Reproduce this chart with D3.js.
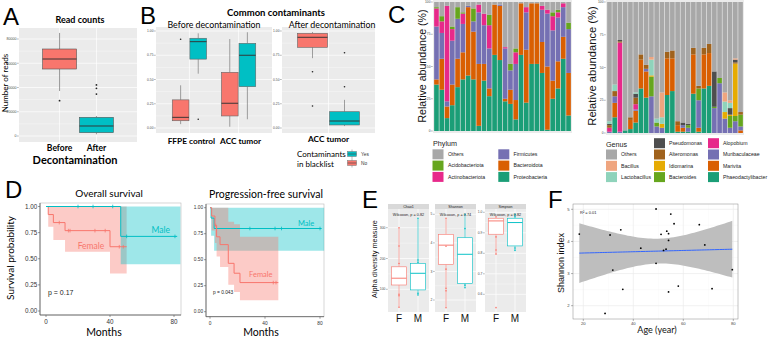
<!DOCTYPE html>
<html><head><meta charset="utf-8">
<script src="https://cdn.jsdelivr.net/npm/d3@7"></script>
<style>body{margin:0;background:#fff}svg{display:block}</style>
</head><body><svg id="c" width="771" height="337"></svg>
<script>
// ---------------- DATA ----------------
// Panel A: read counts
const readGroups = ["Before", "After"];
const readLow = [37100, 1400];
const readQ1 = [55250, 2750];
const readMedian = [63500, 8250];
const readQ3 = [71750, 15400];
const readHigh = [85000, 16500];
const readOutliers = [[29100], [42100, 39300, 34600]];
const readTicks = [0, 20000, 40000, 60000, 80000];

// Panel B: common contaminants proportion [low, q1, median, q3, high]
const beforeSites = ["FFPE control", "ACC tumor"];
const afterSites = ["ACC tumor"];
const blacklistLabels = ["Yes", "No"];
const beforeNo = [[0.04, 0.075, 0.11, 0.29, 0.44], [0.013, 0.124, 0.255, 0.574, 0.917]];
const beforeYes = [[0.56, 0.71, 0.89, 0.925, 0.976], [0.09, 0.426, 0.75, 0.873, 0.987]];
const beforeNoOut = [[0.915], []];
const beforeYesOut = [[0.09], []];
const afterNo = [0.72, 0.832, 0.935, 0.976, 0.99];
const afterYes = [0.02, 0.031, 0.072, 0.168, 0.29];
const afterNoOut = [0.58, 0.227];
const afterYesOut = [0.776, 0.426];
const propTicks = [0, 0.25, 0.5, 0.75, 1];

// Panel C: relative abundance (%) per sample, 26 samples
const samples = d3.range(1, 27).map(i => "S" + i);
const phylumNames = ["Proteobacteria", "Bacteroidota", "Firmicutes", "Actinobacteriota", "Acidobacteriota"];
const proteobacteria = [36,32,10,20,34,40,43,40,4,39,27,59,55,23,21,9,59,22,52,52,45,1,25,33,56,12];
const bacteroidota   = [4,24,9,16,22,21,53,37,48,13,6,39,42,2,11,15,40,41,47,47,24,49,14,21,17,33];
const firmicutes     = [41,20,4,34,31,22,1,8,40,30,31,0,1,39,15,28,0,29,0,0,25,41,39,34,23,34];
const actinobacteriota = [14,9,74,9,0,8,0,0,6,9,18,0,0,1,0,9,0,4,0,0,3,3,11,4,3,0];
const acidobacteriota  = [1,4,0,2,9,1,0,10,0,0,8,0,0,0,5,3,0,0,0,0,0,0,3,2,0,5];
const phylumLegendCol1 = ["Others", "Acidobacteriota", "Actinobacteriota"];
const phylumLegendCol2 = ["Firmicutes", "Bacteroidota", "Proteobacteria"];

const genusNames = ["Phaeodactylibacter","Marivita","Muribaculaceae","Alopobium","Bacteroides","Idiomarina","Alteromonas","Pseudomonas","Lactobacillus","Bacillus"];
const phaeodactylibacter = [0,12,0,2,3,8,34,27,0,0,0,29,32,1,1,1,30,1,34,36,0,0,0,0,0,0];
const marivita      = [0,11,0,0,7,9,22,20,0,0,0,28,25,5,3,0,30,3,26,25,0,0,0,0,0,2];
const muribaculaceae= [1,5,1,0,0,1,0,2,28,5,4,0,0,0,2,3,0,21,0,0,19,38,11,4,9,3];
const alopobium     = [3,0,68,0,0,4,0,0,0,0,0,0,0,0,0,0,0,0,0,0,0,0,0,0,0,0];
const bacteroides   = [0,0,0,0,0,0,0,0,15,3,0,0,0,0,0,2,0,9,0,0,1,4,0,9,4,9];
const idiomarina    = [0,0,0,0,0,0,0,0,1,0,3,0,0,0,0,0,0,0,0,0,0,0,5,1,40,0];
const alteromonas   = [2,4,1,0,2,5,4,3,0,0,0,5,6,3,0,0,5,2,5,7,0,0,0,0,1,2];
const pseudomonas   = [1,0,1,0,0,3,0,0,0,0,0,0,0,0,2,1,0,0,0,0,27,0,0,5,2,0];
const lactobacillus = [2,5,0,0,0,1,0,0,12,3,5,0,0,0,0,0,0,0,0,0,0,0,8,4,0,0];
const bacillus      = [0,0,0,0,0,0,0,0,2,0,19,0,0,0,0,0,0,0,0,0,0,0,7,2,1,0];
const genusLegendCol1 = ["Others", "Bacillus", "Lactobacillus"];
const genusLegendCol2 = ["Pseudomonas", "Alteromonas", "Idiomarina", "Bacteroides"];
const genusLegendCol3 = ["Alopobium", "Muribaculaceae", "Marivita", "Phaeodactylibacter"];
const abundanceTicks = [0, 25, 50, 75, 100];

// Panel D: Kaplan-Meier
const osMaleTime = [0, 46.7], osMaleSurv = [1, 0.714], osMaleLower = [1, 0.447], osMaleUpper = [1, 1];
const osMaleEnd = 82, osMaleCensor = [20, 29.4, 41.7, 50.4, 80.6];
const osFemaleTime = [0, 1.4, 4.6, 11.9, 40], osFemaleSurv = [1, 0.923, 0.846, 0.769, 0.615];
const osFemaleLower = [1, 0.807, 0.68, 0.567, 0.36], osFemaleUpper = [1, 1, 1, 1, 1];
const osFemaleEnd = 50.4, osFemaleCensor = [8.3, 14, 15, 30.6, 37, 45.8, 48.3];
const pfsMaleTime = [0, 0.8, 3.0], pfsMaleSurv = [1, 0.9, 0.8], pfsMaleLower = [1, 0.73, 0.585], pfsMaleUpper = [1, 1, 1];
const pfsMaleEnd = 81.2, pfsMaleCensor = [29, 47.3, 52, 80];
const pfsFemaleTime = [0, 1.2, 3.6, 4.8, 7.3, 13.3, 17.5, 21.8];
const pfsFemaleSurv = [1, 0.92, 0.83, 0.72, 0.645, 0.465, 0.37, 0.28];
const pfsFemaleLower = [1, 0.78, 0.66, 0.53, 0.43, 0.26, 0.19, 0.11];
const pfsFemaleUpper = [1, 1, 1, 1, 1, 0.865, 0.84, 0.72];
const pfsFemaleEnd = 49.7, pfsFemaleCensor = [4.2, 46, 48];
const survTicks = [0, 0.25, 0.5, 0.75, 1], monthTicks = [0, 40, 80];

// Panel E: alpha diversity [low, q1, median, q3, high] and points
const alphaMeasures = ["Chao1", "Shannon", "Simpson"];
const sexes = ["F", "M"];
const alphaPvalues = ["0.82", "0.74", "0.82"];
const chao1F = [42, 114, 136, 173, 300], chao1M = [81, 98, 152, 184, 330];
const chao1FPts = [300, 240.6, 184, 83.8, 79.2, 41.6], chao1MPts = [330.5, 195, 188, 87, 81.5];
const shannonF = [1.73, 3.25, 3.92, 4.30, 4.86], shannonM = [2.43, 2.58, 3.6, 4.18, 5.0];
const shannonFPts = [4.86, 3.88, 3.08, 2.41, 2.32, 1.73], shannonMPts = [5.0, 4.5, 2.52, 2.43];
const simpsonF = [0.795, 0.893, 0.958, 0.971, 0.978], simpsonM = [0.81, 0.836, 0.95, 0.971, 0.99];
const simpsonFPts = [0.978, 0.88, 0.816, 0.796, 0.535], simpsonMPts = [0.99, 0.978, 0.826, 0.815];
const chao1Ticks = [100, 200, 300], shannonTicks = [2, 3, 4, 5], simpsonTicks = [0.6, 0.7, 0.8, 0.9, 1.0];

// Panel F: Shannon vs age
const ages = [18.4,30.7,35,31.8,35.8,28.7,43,49.1,49.1,51.1,52.1,53.1,53.4,54.1,54.1,55,54.1,56.3,58,66.4,68.6,71.5,79.6];
const shannonIdx = [4.23,4.20,4.36,3.11,2.51,1.76,3.79,5.01,3.32,4.22,3.72,3.76,4.32,4.24,4.03,4.85,2.43,4.55,2.61,4.52,3.89,2.53,3.12];
const ageTicks = [20, 40, 60, 80], shannonAxisTicks = [2, 3, 4, 5];

// ---------------- STYLE ----------------
const FA = "'Liberation Sans', Arial, sans-serif";
const FC = "Lato, 'Open Sans', sans-serif";
const RED = "#F8766D", TEAL = "#00BFC4", BG = "#EBEBEB";
const phylumColors = {Others:"#A8A8A8", Acidobacteriota:"#66A61E", Actinobacteriota:"#E7298A", Firmicutes:"#7570B3", Bacteroidota:"#D95F02", Proteobacteria:"#1B9E77"};
const genusColors = {Others:"#A8A8A8", Bacillus:"#EFA57F", Lactobacillus:"#8FD3BB", Pseudomonas:"#4E4E4E", Alteromonas:"#A0621C",
  Idiomarina:"#E6AB02", Bacteroides:"#66A61E", Alopobium:"#E7298A", Muribaculaceae:"#7570B3", Marivita:"#D95F02", Phaeodactylibacter:"#1B9E77"};

const svg = d3.select("#c");
svg.append("rect").attr("width", 771).attr("height", 337).attr("fill", "#fff");

function T(x, y, s, o = {}) {
  const t = svg.append("text").attr("x", x).attr("y", y).text(s)
    .attr("font-family", o.ff || FA).attr("font-size", o.fs || 8)
    .attr("fill", o.fill || "#000").attr("text-anchor", o.anchor || "start");
  if (o.bold) t.attr("font-weight", "bold");
  if (o.rot) t.attr("transform", `rotate(-90,${x},${y})`);
  return t;
}
function L(x1, y1, x2, y2, stroke, w) {
  return svg.append("line").attr("x1", x1).attr("y1", y1).attr("x2", x2).attr("y2", y2)
    .attr("stroke", stroke).attr("stroke-width", w);
}
function ggPanel(x0, x1, y0, y1, ys, majors, xCenters, bg) {
  svg.append("rect").attr("x", x0).attr("y", y0).attr("width", x1 - x0).attr("height", y1 - y0).attr("fill", bg || BG);
  for (let i = 0; i < majors.length - 1; i++) {
    const m = ys((majors[i] + majors[i + 1]) / 2);
    L(x0, m, x1, m, "#fff", 0.35);
  }
  majors.forEach(v => L(x0, ys(v), x1, ys(v), "#fff", 0.7));
  xCenters.forEach(x => L(x, y0, x, y1, "#fff", 0.7));
}
function yLabels(x, ys, ticks, fmt, fs, col) {
  ticks.forEach(v => {
    T(x, ys(v) + fs * 0.35, fmt(v), {fs: fs, anchor: "end", fill: col || "#4D4D4D"});
    L(x + 0.6, ys(v), x + 2.2, ys(v), "#444", 0.4);
  });
}
function boxplot(cx, w, ys, s, fill, stroke, lw, medStroke) {
  L(cx, ys(s[0]), cx, ys(s[1]), stroke, lw);
  L(cx, ys(s[3]), cx, ys(s[4]), stroke, lw);
  svg.append("rect").attr("x", cx - w / 2).attr("y", ys(s[3])).attr("width", w)
    .attr("height", ys(s[1]) - ys(s[3])).attr("fill", fill).attr("stroke", stroke).attr("stroke-width", lw);
  L(cx - w / 2, ys(s[2]), cx + w / 2, ys(s[2]), medStroke || stroke, lw * 1.6);
}
function dots(cx, ys, vals, col, r) {
  vals.forEach(v => svg.append("circle").attr("cx", cx).attr("cy", ys(v)).attr("r", r).attr("fill", col));
}

// ---------------- PANEL A ----------------
T(3, 25, "A", {fs: 24});
const yA = d3.scaleLinear().domain([0, 80000]).range([136, 39]);
const xA = d3.scalePoint().domain(readGroups).range([19, 137]).padding(1.1);
ggPanel(19, 137, 28, 142, yA, readTicks, readGroups.map(g => xA(g)));
yLabels(16.5, yA, readTicks, d3.format("d"), 3.6);
readGroups.forEach((g, i) => {
  boxplot(xA(g), 34, yA, [readLow[i], readQ1[i], readMedian[i], readQ3[i], readHigh[i]], i === 0 ? RED : TEAL, "#555", 0.6, "#333");
  dots(xA(g), yA, readOutliers[i], "#222", 0.9);
  T(xA(g), 151, g, {ff: FC, fs: 8.5, bold: true, anchor: "middle"});
});
T(80, 23, "Read counts", {ff: FC, fs: 9, bold: true, anchor: "middle"});
T(7.5, 83, "Number of reads", {ff: FC, fs: 8, anchor: "middle", rot: true});
T(75, 164, "Decontamination", {ff: FC, fs: 11, bold: true, anchor: "middle"});

// ---------------- PANEL B ----------------
T(140, 24, "B", {fs: 24});
T(276, 16, "Common contaminants", {ff: FC, fs: 9.5, bold: true, anchor: "middle"});
const yB = d3.scaleLinear().domain([0, 1]).range([128, 31]);
const xB1 = d3.scalePoint().domain(beforeSites).range([156, 272]).padding(0.68);
const xB2 = d3.scalePoint().domain(afterSites).range([282, 375]);
ggPanel(156, 272, 27, 133, yB, propTicks, beforeSites.map(s => xB1(s)));
ggPanel(282, 375, 27, 133, yB, propTicks, [xB2("ACC tumor")]);
yLabels(153.5, yB, propTicks, d3.format(".2f"), 3.3);
yLabels(279.5, yB, propTicks, d3.format(".2f"), 3.3);
T(214, 27.5, "Before decontamination", {ff: FC, fs: 8.8, anchor: "middle"});
T(332, 27.5, "After decontamination", {ff: FC, fs: 8.8, anchor: "middle"});
beforeSites.forEach((s, i) => {
  const c = xB1(s);
  boxplot(c - 8.8, 16.7, yB, beforeNo[i], RED, "#666", 0.6, "#333");
  boxplot(c + 8.8, 16.7, yB, beforeYes[i], TEAL, "#666", 0.6, "#333");
  dots(c - 8.8, yB, beforeNoOut[i], "#222", 0.8);
  dots(c + 8.8, yB, beforeYesOut[i], "#222", 0.8);
  T(c + 2, 144, s, {ff: FC, fs: 8.3, bold: true, anchor: "middle"});
});
{
  const c = xB2("ACC tumor");
  boxplot(c - 16, 30, yB, afterNo, RED, "#666", 0.6, "#333");
  boxplot(c + 16, 30, yB, afterYes, TEAL, "#666", 0.6, "#333");
  dots(c - 16, yB, afterNoOut, "#222", 0.8);
  dots(c + 16, yB, afterYesOut, "#222", 0.8);
  T(c, 142, "ACC tumor", {ff: FC, fs: 8.3, bold: true, anchor: "middle"});
}
T(297, 157, "Contaminants", {ff: FC, fs: 8});
T(297, 166.5, "in blacklist", {ff: FC, fs: 8});
blacklistLabels.forEach((lab, i) => {
  const y0 = 150 + i * 9;
  const col = lab === "Yes" ? TEAL : RED;
  L(352, y0 - 0.5, 352, y0 + 8.5, "#777", 0.5);
  svg.append("rect").attr("x", 347.5).attr("y", y0 + 1.5).attr("width", 9).attr("height", 5).attr("fill", col).attr("stroke", "#777").attr("stroke-width", 0.5);
  L(347.5, y0 + 4, 356.5, y0 + 4, "#444", 0.6);
  T(361, y0 + 6, lab, {fs: 4.8, fill: "#333"});
});

// ---------------- PANEL C ----------------
T(388, 23, "C", {fs: 24});
function stackedPanel(x0, x1, ys, layers, names, colors, tickX, labX, labFs) {
  svg.append("rect").attr("x", x0).attr("y", 0).attr("width", x1 - x0).attr("height", ys(0) + 2).attr("fill", BG);
  const xs = d3.scaleBand().domain(samples).range([x0 + 0.5, x1 - 0.5]).padding(0.12);
  const rows = samples.map((s, i) => {
    const r = {sample: s};
    let sum = 0;
    names.forEach((n, k) => { r[n] = layers[k][i]; sum += layers[k][i]; });
    r.Others = 100 - sum;
    return r;
  });
  const keys = names.concat(["Others"]);
  const st = d3.stack().keys(keys)(rows);
  st.forEach(layer => {
    svg.append("g").selectAll("rect").data(layer).join("rect")
      .attr("x", d => xs(d.data.sample)).attr("width", xs.bandwidth())
      .attr("y", d => ys(d[1])).attr("height", d => ys(d[0]) - ys(d[1]))
      .attr("fill", colors[layer.key]);
  });
  yLabels(tickX, ys, abundanceTicks, d3.format("d"), 3.3);
  T(labX, 66, "Relative abundance (%)", {fs: labFs, anchor: "middle", rot: true, fill: "#111"});
}
const yC1 = d3.scaleLinear().domain([0, 100]).range([131, 2]);
stackedPanel(433, 572, yC1, [proteobacteria, bacteroidota, firmicutes, actinobacteriota, acidobacteriota], phylumNames, phylumColors, 430.5, 425.5, 10.6);
const yC2 = d3.scaleLinear().domain([0, 100]).range([133, 2]);
stackedPanel(606, 744, yC2, [phaeodactylibacter, marivita, muribaculaceae, alopobium, bacteroides, idiomarina, alteromonas, pseudomonas, lactobacillus, bacillus], genusNames, genusColors, 603.5, 596, 11.2);

function legendCol(x, yStart, items, colors, labX) {
  items.forEach((n, i) => {
    const y = yStart + i * 11.3;
    svg.append("rect").attr("x", x).attr("y", y).attr("width", 11).attr("height", 10).attr("fill", colors[n]);
    T(labX, y + 6.8, n, {fs: 5.2, fill: "#222"});
  });
}
T(433, 145.5, "Phylum", {fs: 7.2, fill: "#222"});
legendCol(432.5, 149.3, phylumLegendCol1, phylumColors, 448);
legendCol(498.3, 149.3, phylumLegendCol2, phylumColors, 513.5);
T(606, 147, "Genus", {fs: 7.2, fill: "#222"});
legendCol(606, 149.5, genusLegendCol1, genusColors, 621);
legendCol(654, 138.2, genusLegendCol2, genusColors, 669);
legendCol(708, 138.2, genusLegendCol3, genusColors, 723);

// ---------------- PANEL D ----------------
T(5, 198, "D", {fs: 24});
function stepVal(times, vals, t) { let v = vals[0]; times.forEach((tt, i) => { if (tt <= t) v = vals[i]; }); return v; }
function kmPanel(xs, ys, box, tickFs, curves) {
  svg.append("rect").attr("x", box[0]).attr("y", box[2]).attr("width", box[1] - box[0]).attr("height", box[3] - box[2])
    .attr("fill", "#fff").attr("stroke", "#bbb").attr("stroke-width", 0.6);
  const area = d3.area().curve(d3.curveStepAfter).x(d => xs(d[0])).y0(d => ys(d[1])).y1(d => ys(d[2]));
  curves.forEach(c => {
    const pts = c.time.map((t, i) => [t, c.lower[i], c.upper[i]]);
    pts.push([c.bandEnd, c.lower[c.lower.length - 1], c.upper[c.upper.length - 1]]);
    svg.append("path").attr("d", area(pts)).attr("fill", c.color).attr("fill-opacity", 0.38);
  });
  const line = d3.line().curve(d3.curveStepAfter).x(d => xs(d[0])).y(d => ys(d[1]));
  curves.forEach(c => {
    const pts = c.time.map((t, i) => [t, c.surv[i]]);
    pts.push([c.end, c.surv[c.surv.length - 1]]);
    svg.append("path").attr("d", line(pts)).attr("fill", "none").attr("stroke", c.color).attr("stroke-width", 1);
    c.censor.forEach(t => {
      const y = ys(stepVal(c.time, c.surv, t));
      L(xs(t), y - 1.8, xs(t), y + 1.8, c.color, 0.8);
    });
  });
  L(box[0], box[2], box[0], box[3], "#555", 0.8);
  L(box[0], box[3], box[1], box[3], "#555", 0.8);
  survTicks.forEach(v => {
    L(box[0] - 2, ys(v), box[0], ys(v), "#555", 0.6);
    T(box[0] - 2.8, ys(v) + tickFs * 0.35, d3.format(".2f")(v), {fs: tickFs, anchor: "end", fill: "#333"});
  });
  monthTicks.forEach(v => {
    L(xs(v), box[3], xs(v), box[3] + 2, "#555", 0.6);
    T(xs(v), box[3] + 3 + tickFs, d3.format("d")(v), {fs: tickFs, anchor: "middle", fill: "#333"});
  });
}
const xOS = d3.scaleLinear().domain([0, 80]).range([46, 174]);
const yOS = d3.scaleLinear().domain([0, 1]).range([311, 206.5]);
kmPanel(xOS, yOS, [40, 181, 203, 315], 6.3, [
  {time: osFemaleTime, surv: osFemaleSurv, lower: osFemaleLower, upper: osFemaleUpper, end: osFemaleEnd, bandEnd: osFemaleEnd, censor: osFemaleCensor, color: RED},
  {time: osMaleTime, surv: osMaleSurv, lower: osMaleLower, upper: osMaleUpper, end: osMaleEnd, bandEnd: 84, censor: osMaleCensor, color: TEAL}
]);
T(109, 197, "Overall survival", {ff: FC, fs: 10, anchor: "middle"});
T(13.5, 258, "Survival probability", {ff: FC, fs: 10, anchor: "middle", rot: true});
T(104, 336, "Months", {ff: FC, fs: 10.5, anchor: "middle"});
T(91, 249, "Female", {ff: FC, fs: 8.5, anchor: "middle", fill: RED});
T(151.5, 233, "Male", {ff: FC, fs: 8.5, fill: TEAL});
T(48, 294.5, "p = 0.17", {fs: 7, fill: "#222"});

const xPFS = d3.scaleLinear().domain([0, 80]).range([210, 320]);
const yPFS = d3.scaleLinear().domain([0, 1]).range([311.7, 207.7]);
kmPanel(xPFS, yPFS, [206, 324, 204, 316.7], 4.8, [
  {time: pfsMaleTime, surv: pfsMaleSurv, lower: pfsMaleLower, upper: pfsMaleUpper, end: pfsMaleEnd, bandEnd: 83, censor: pfsMaleCensor, color: TEAL},
  {time: pfsFemaleTime, surv: pfsFemaleSurv, lower: pfsFemaleLower, upper: pfsFemaleUpper, end: pfsFemaleEnd, bandEnd: pfsFemaleEnd, censor: pfsFemaleCensor, color: RED}
]);
T(266, 198, "Progression-free survival", {ff: FC, fs: 10.5, anchor: "middle"});
T(261, 336, "Months", {ff: FC, fs: 10.5, anchor: "middle"});
T(298, 225.5, "Male", {ff: FC, fs: 7.5, fill: TEAL});
T(249, 277, "Female", {ff: FC, fs: 7.5, fill: RED});
T(213, 293.5, "p = 0.043", {fs: 4.8, fill: "#222"});

// ---------------- PANEL E ----------------
T(362, 208, "E", {fs: 24});
T(377, 259, "Alpha diversity measure", {fs: 7.3, anchor: "middle", rot: true, fill: "#111"});
const ePanels = [
  {x0: 388, x1: 429, ys: d3.scaleLinear().domain([100, 300]).range([289.3, 227.7]), ticks: chao1Ticks, fmt: d3.format("d"), F: chao1F, M: chao1M, FP: chao1FPts, MP: chao1MPts},
  {x0: 435, x1: 476, ys: d3.scaleLinear().domain([2, 5]).range([300, 214.3]), ticks: shannonTicks, fmt: d3.format("d"), F: shannonF, M: shannonM, FP: shannonFPts, MP: shannonMPts},
  {x0: 485, x1: 526, ys: d3.scaleLinear().domain([0.6, 1.0]).range([294.3, 212.3]), ticks: simpsonTicks, fmt: d3.format(".1f"), F: simpsonF, M: simpsonM, FP: simpsonFPts, MP: simpsonMPts}
];
ePanels.forEach((p, i) => {
  const xs = d3.scalePoint().domain(sexes).range([p.x0, p.x1]).padding(0.58);
  svg.append("rect").attr("x", p.x0).attr("y", 204).attr("width", p.x1 - p.x0).attr("height", 5).attr("fill", "#D9D9D9");
  T((p.x0 + p.x1) / 2, 208, alphaMeasures[i], {fs: 3.6, anchor: "middle", fill: "#222"});
  ggPanel(p.x0, p.x1, 209, 312, p.ys, p.ticks, sexes.map(s => xs(s)));
  yLabels(p.x0 - 2.5, p.ys, p.ticks, p.fmt, 3.4);
  boxplot(xs("F"), 15, p.ys, p.F, "#fff", RED, 0.6);
  boxplot(xs("M"), 15, p.ys, p.M, "#fff", TEAL, 0.6);
  dots(xs("F"), p.ys, p.FP, RED, 0.8);
  dots(xs("M"), p.ys, p.MP, TEAL, 0.8);
  T((p.x0 + p.x1) / 2, 215.5, "Wilcoxon, p = " + alphaPvalues[i], {fs: 3.8, anchor: "middle", fill: "#222"});
  sexes.forEach(s => T(xs(s), 322, s, {fs: 10, anchor: "middle", fill: "#111"}));
});

// ---------------- PANEL F ----------------
T(548, 208, "F", {fs: 24});
const xF = d3.scaleLinear().domain([20, 80]).range([583.3, 733.3]);
const yF = d3.scaleLinear().domain([2, 5]).range([305.7, 209.3]);
svg.append("rect").attr("x", 573).attr("y", 204).attr("width", 165).attr("height", 115).attr("fill", "#fff");
[30, 50, 70].forEach(v => L(xF(v), 204, xF(v), 319, "#F2F2F2", 0.35));
[2.5, 3.5, 4.5].forEach(v => L(573, yF(v), 738, yF(v), "#F2F2F2", 0.35));
ageTicks.forEach(v => L(xF(v), 204, xF(v), 319, "#EBEBEB", 0.7));
shannonAxisTicks.forEach(v => L(573, yF(v), 738, yF(v), "#EBEBEB", 0.7));
// linear model fit with 95% CI
const n = ages.length, mx = d3.mean(ages), my = d3.mean(shannonIdx);
const sxx = d3.sum(ages, a => (a - mx) ** 2);
const sxy = d3.sum(ages.map((a, i) => (a - mx) * (shannonIdx[i] - my)));
const slope = sxy / sxx, icpt = my - slope * mx;
const sres = Math.sqrt(d3.sum(ages.map((a, i) => (shannonIdx[i] - icpt - slope * a) ** 2)) / (n - 2));
const tq = 2.08;
const grid = d3.range(0, 61).map(k => d3.min(ages) + k * (d3.max(ages) - d3.min(ages)) / 60);
const fit = grid.map(a => {
  const f = icpt + slope * a, se = sres * Math.sqrt(1 / n + (a - mx) ** 2 / sxx);
  return [a, f, f - tq * se, f + tq * se];
});
svg.append("path").attr("d", d3.area().x(d => xF(d[0])).y0(d => yF(d[2])).y1(d => yF(d[3]))(fit)).attr("fill", "#BEBEBE");
svg.append("path").attr("d", d3.line().x(d => xF(d[0])).y(d => yF(d[1]))(fit)).attr("fill", "none").attr("stroke", "#3366FF").attr("stroke-width", 1);
ages.forEach((a, i) => svg.append("circle").attr("cx", xF(a)).attr("cy", yF(shannonIdx[i])).attr("r", 0.9).attr("fill", "#000"));
svg.append("rect").attr("x", 573).attr("y", 204).attr("width", 165).attr("height", 115).attr("fill", "none").attr("stroke", "#888").attr("stroke-width", 0.5);
shannonAxisTicks.forEach(v => {
  L(571, yF(v), 573, yF(v), "#444", 0.4);
  T(569.5, yF(v) + 1.5, d3.format("d")(v), {fs: 4.2, anchor: "end", fill: "#444"});
});
ageTicks.forEach(v => {
  L(xF(v), 319, xF(v), 321, "#444", 0.4);
  T(xF(v), 324.5, d3.format("d")(v), {fs: 4.2, anchor: "middle", fill: "#444"});
});
T(580, 213.5, "R² = 0.01", {fs: 4, fill: "#222"});
T(563.5, 263, "Shannon index", {fs: 9, anchor: "middle", rot: true, fill: "#111"});
T(657, 333, "Age (year)", {ff: FC, fs: 9, anchor: "middle", fill: "#111"});
</script></body></html>
